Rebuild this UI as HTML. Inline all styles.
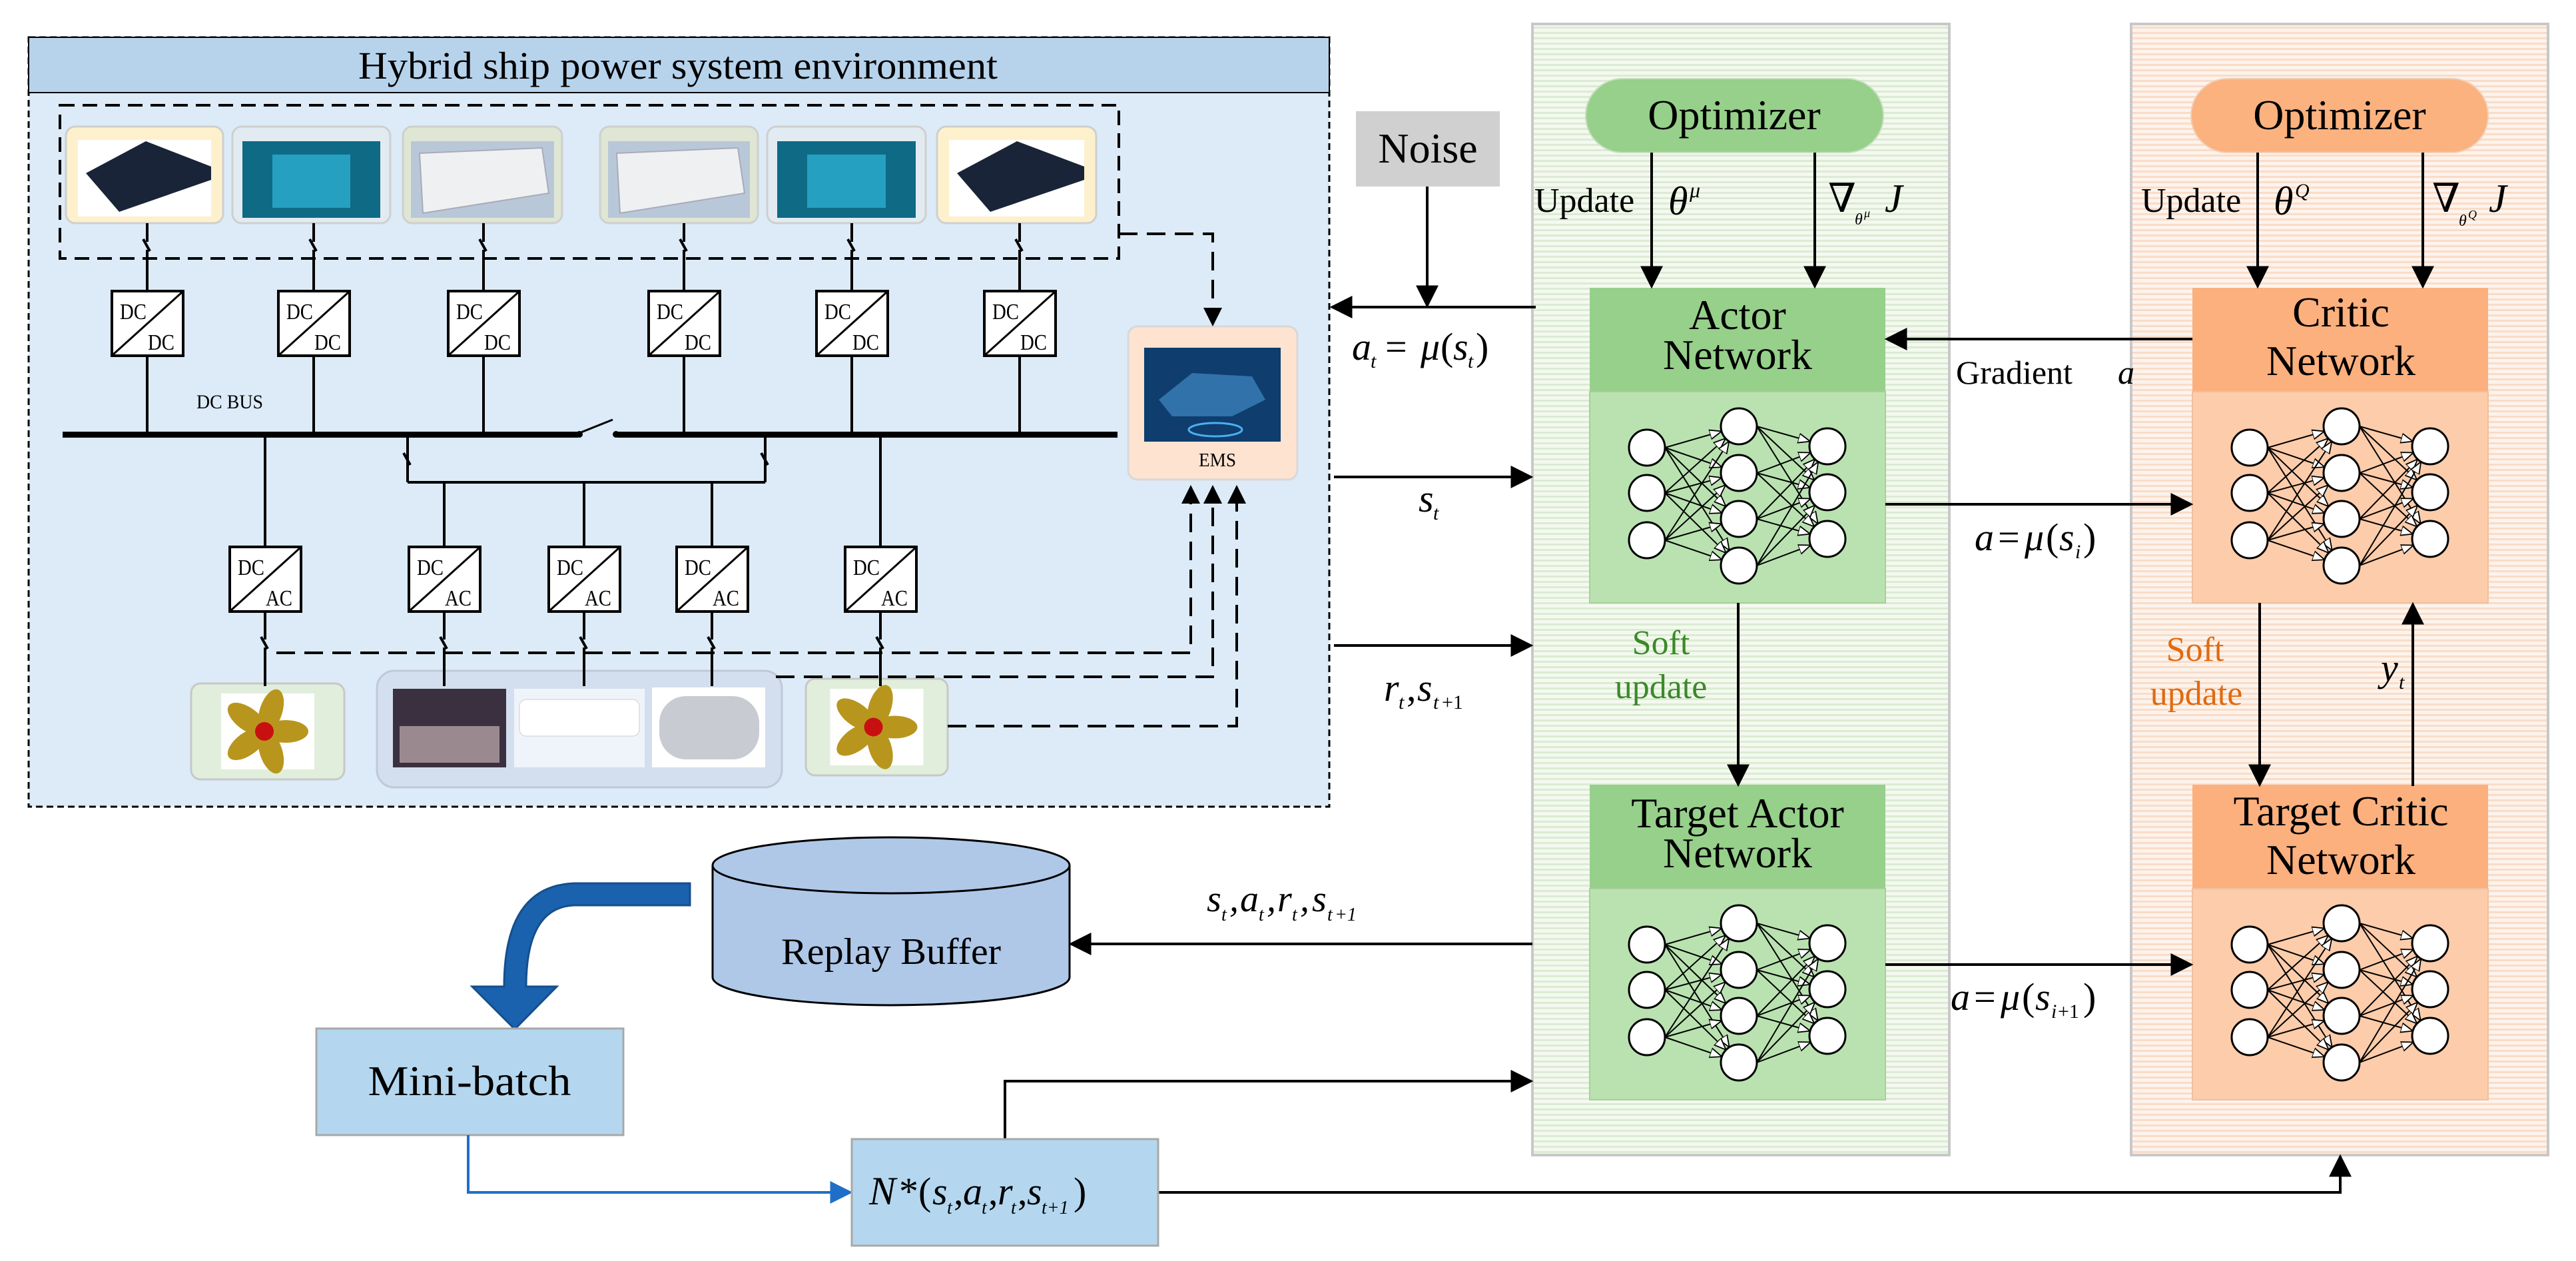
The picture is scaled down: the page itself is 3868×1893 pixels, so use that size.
<!DOCTYPE html>
<html><head><meta charset="utf-8"><style>
html,body{margin:0;padding:0;background:#fff}
svg{display:block}
svg text{font-family:"Liberation Serif","DejaVu Serif",serif}
.it{font-style:italic}
</style></head><body>
<svg id="s" xmlns="http://www.w3.org/2000/svg" width="3868" height="1893" viewBox="0 0 3868 1893" font-family="Liberation Serif, serif">
<defs>
<marker id="ab" viewBox="0 0 10 10" refX="9" refY="5" markerWidth="34" markerHeight="34" orient="auto" markerUnits="userSpaceOnUse"><path d="M0,0 L10,5 L0,10 z" fill="#000"/></marker>
<marker id="abl" viewBox="0 0 10 10" refX="9" refY="5" markerWidth="34" markerHeight="34" orient="auto" markerUnits="userSpaceOnUse"><path d="M0,0 L10,5 L0,10 z" fill="#1f6fc8"/></marker>
<marker id="on" viewBox="0 0 10 10" refX="10" refY="5" markerWidth="18" markerHeight="18" orient="auto" markerUnits="userSpaceOnUse"><path d="M0,1 L10,5 L0,9 z" fill="#fff" stroke="#000" stroke-width="1"/></marker>
<pattern id="pg" width="8" height="8" patternUnits="userSpaceOnUse"><rect width="8" height="8" fill="#f4f9f0"/><rect y="0" width="8" height="3" fill="#dcebd3"/></pattern>
<pattern id="po" width="8" height="8" patternUnits="userSpaceOnUse"><rect width="8" height="8" fill="#fdf3ec"/><rect y="0" width="8" height="3" fill="#f9dcc8"/></pattern>
</defs>

<rect x="43" y="56" width="1953" height="1155" fill="#dcebf7" stroke="#000" stroke-width="3" stroke-dasharray="10,6"/>
<rect x="43" y="56" width="1953" height="83" fill="#b7d3ec" stroke="#000" stroke-width="2"/>
<text x="1018" y="118" font-size="58" text-anchor="middle" textLength="960" lengthAdjust="spacingAndGlyphs">Hybrid ship power system environment</text>

<rect x="90" y="158" width="1590" height="230" fill="none" stroke="#000" stroke-width="4" stroke-dasharray="22,12"/>
<g id="tiles"></g>
<g id="elec" stroke="#000" stroke-width="4" fill="none"></g>

<rect x="94" y="648" width="774" height="9" fill="#000"/>
<rect x="927" y="648" width="751" height="9" fill="#000"/>
<line x1="870" y1="650" x2="920" y2="630" stroke="#000" stroke-width="3"/>
<circle cx="870" cy="652" r="5" fill="#000"/><circle cx="925" cy="652" r="5" fill="#000"/>
<text x="295" y="613" font-size="30" textLength="100" lengthAdjust="spacingAndGlyphs">DC BUS</text>

<rect x="1694" y="490" width="254" height="230" rx="14" fill="#fde3d0" stroke="#d8d8d8" stroke-width="3"/>
<rect x="1718" y="522" width="205" height="141" fill="#0e3d6e"/>
<path d="M1740,600 L1790,560 L1880,565 L1900,600 L1850,625 L1760,625 z" fill="#3a7fb8" opacity="0.8"/>
<ellipse cx="1825" cy="645" rx="40" ry="10" fill="none" stroke="#4ab0f0" stroke-width="3"/>
<text x="1828" y="700" font-size="28" text-anchor="middle" textLength="56" lengthAdjust="spacingAndGlyphs">EMS</text>

<g stroke="#000" stroke-width="4" fill="none" stroke-dasharray="28,14">
<polyline points="1680,351 1821,351 1821,470"/>
<polyline points="415,980 1788,980 1788,748"/>
<polyline points="1165,1016 1821,1016 1821,748"/>
<polyline points="1423,1090 1857,1090 1857,748"/>
</g>
<g fill="#000">
<path d="M1807,462 L1835,462 L1821,490 z"/>
<path d="M1774,756 L1802,756 L1788,728 z"/>
<path d="M1807,756 L1835,756 L1821,728 z"/>
<path d="M1843,756 L1871,756 L1857,728 z"/>
</g>

<rect x="2036" y="167" width="216" height="113" fill="#d0d0d0"/>
<text x="2144" y="244" font-size="64" text-anchor="middle">Noise</text>

<rect x="2301" y="36" width="626" height="1698" fill="url(#pg)" stroke="#c8c8c8" stroke-width="4"/>
<rect x="3200" y="36" width="626" height="1698" fill="url(#po)" stroke="#c8c8c8" stroke-width="4"/>

<rect x="2381" y="118" width="447" height="111" rx="55" fill="#96d08a" stroke="#c8e0c0" stroke-width="2"/>
<text x="2604" y="194" font-size="64" text-anchor="middle">Optimizer</text>
<rect x="3290" y="118" width="446" height="111" rx="55" fill="#fbb27f" stroke="#f0d0b8" stroke-width="2"/>
<text x="3513" y="194" font-size="64" text-anchor="middle">Optimizer</text>

<g id="nets"></g>

<text x="2609" y="494" font-size="64" text-anchor="middle">Actor</text>
<text x="2609" y="554" font-size="64" text-anchor="middle">Network</text>
<text x="2609" y="1242" font-size="64" text-anchor="middle">Target Actor</text>
<text x="2609" y="1302" font-size="64" text-anchor="middle">Network</text>
<text x="3515" y="490" font-size="64" text-anchor="middle">Critic</text>
<text x="3515" y="563" font-size="64" text-anchor="middle">Network</text>
<text x="3515" y="1239" font-size="64" text-anchor="middle">Target Critic</text>
<text x="3515" y="1312" font-size="64" text-anchor="middle">Network</text>

<g stroke="#000" stroke-width="4" fill="none">
<line x1="2480" y1="229" x2="2480" y2="430" marker-end="url(#ab)"/>
<line x1="2725" y1="229" x2="2725" y2="430" marker-end="url(#ab)"/>
<line x1="3390" y1="229" x2="3390" y2="430" marker-end="url(#ab)"/>
<line x1="3638" y1="229" x2="3638" y2="430" marker-end="url(#ab)"/>
<line x1="2143" y1="280" x2="2143" y2="459" marker-end="url(#ab)"/>
<line x1="2306" y1="461" x2="2000" y2="461" marker-end="url(#ab)"/>
<line x1="3292" y1="509" x2="2833" y2="509" marker-end="url(#ab)"/>
<line x1="2831" y1="757" x2="3290" y2="757" marker-end="url(#ab)"/>
<line x1="2003" y1="716" x2="2299" y2="716" marker-end="url(#ab)"/>
<line x1="2003" y1="969" x2="2299" y2="969" marker-end="url(#ab)"/>
<line x1="2610" y1="905" x2="2610" y2="1178" marker-end="url(#ab)"/>
<line x1="3393" y1="905" x2="3393" y2="1178" marker-end="url(#ab)"/>
<line x1="3623" y1="1180" x2="3623" y2="907" marker-end="url(#ab)"/>
<line x1="2831" y1="1448" x2="3290" y2="1448" marker-end="url(#ab)"/>
<line x1="2301" y1="1417" x2="1608" y2="1417" marker-end="url(#ab)"/>
<polyline points="1509,1710 1509,1623 2299,1623" marker-end="url(#ab)"/>
<polyline points="1739,1790 3514,1790 3514,1736" marker-end="url(#ab)"/>
</g>

<text x="2304" y="318" font-size="52">Update</text>
<text x="2505" y="322" font-size="60" class="it">θ</text><text x="2537" y="296" font-size="32" class="it">μ</text>
<text x="2745" y="318" font-size="60" class="it">∇</text><text x="2785" y="337" font-size="24" class="it">θ</text><text x="2799" y="326" font-size="18" class="it">μ</text><text x="2830" y="318" font-size="60" class="it">J</text>
<text x="3215" y="318" font-size="52">Update</text>
<text x="3414" y="322" font-size="60" class="it">θ</text><text x="3446" y="296" font-size="30" class="it">Q</text>
<text x="3652" y="318" font-size="60" class="it">∇</text><text x="3692" y="339" font-size="24" class="it">θ</text><text x="3706" y="328" font-size="18" class="it">Q</text><text x="3737" y="318" font-size="60" class="it">J</text>

<text x="2030" y="540" font-size="58" class="it">a</text><text x="2058" y="552" font-size="30" class="it">t</text>
<text x="2080" y="540" font-size="58">=</text><text x="2133" y="540" font-size="58" class="it">μ</text><text x="2163" y="540" font-size="58">(</text><text x="2182" y="540" font-size="58" class="it">s</text><text x="2204" y="552" font-size="30" class="it">t</text><text x="2216" y="540" font-size="58">)</text>

<text x="2130" y="768" font-size="58" class="it">s</text><text x="2152" y="780" font-size="30" class="it">t</text>
<text x="2078" y="1052" font-size="58" class="it">r</text><text x="2100" y="1064" font-size="30" class="it">t</text><text x="2112" y="1052" font-size="58">,</text><text x="2128" y="1052" font-size="58" class="it">s</text><text x="2152" y="1064" font-size="30" class="it">t</text><text x="2165" y="1064" font-size="30">+1</text>

<text x="2937" y="576" font-size="50">Gradient</text><text x="3180" y="576" font-size="50" class="it">a</text>
<text x="2965" y="826" font-size="58" class="it">a</text><text x="3000" y="826" font-size="58">=</text><text x="3040" y="826" font-size="58" class="it">μ</text><text x="3072" y="826" font-size="58">(</text><text x="3092" y="826" font-size="58" class="it">s</text><text x="3116" y="838" font-size="30" class="it">i</text><text x="3128" y="826" font-size="58">)</text>
<text x="2929" y="1516" font-size="58" class="it">a</text><text x="2964" y="1516" font-size="58">=</text><text x="3004" y="1516" font-size="58" class="it">μ</text><text x="3036" y="1516" font-size="58">(</text><text x="3056" y="1516" font-size="58" class="it">s</text><text x="3080" y="1528" font-size="30" class="it">i</text><text x="3090" y="1528" font-size="30">+1</text><text x="3128" y="1516" font-size="58">)</text>

<text x="2494" y="982" font-size="52" fill="#3a8a28" text-anchor="middle">Soft</text>
<text x="2494" y="1048" font-size="52" fill="#3a8a28" text-anchor="middle">update</text>
<text x="3296" y="992" font-size="52" fill="#e06a10" text-anchor="middle">Soft</text>
<text x="3298" y="1058" font-size="52" fill="#e06a10" text-anchor="middle">update</text>
<text x="3575" y="1022" font-size="58" class="it">y</text><text x="3602" y="1034" font-size="30" class="it">t</text>

<path d="M1070,1299 L1070,1467 A268,42 0 0 0 1606,1467 L1606,1299" fill="#afc8e8" stroke="#000" stroke-width="3"/>
<ellipse cx="1338" cy="1299" rx="268" ry="42" fill="#afc8e8" stroke="#000" stroke-width="3"/>
<text x="1338" y="1447" font-size="56" text-anchor="middle" textLength="330" lengthAdjust="spacingAndGlyphs">Replay Buffer</text>
<g class="it" font-size="56">
<text x="1812" y="1368" class="it">s</text><text x="1834" y="1382" font-size="28" class="it">t</text><text x="1846" y="1368">,</text>
<text x="1862" y="1368" class="it">a</text><text x="1890" y="1382" font-size="28" class="it">t</text><text x="1902" y="1368">,</text>
<text x="1918" y="1368" class="it">r</text><text x="1940" y="1382" font-size="28" class="it">t</text><text x="1952" y="1368">,</text>
<text x="1970" y="1368" class="it">s</text><text x="1993" y="1382" font-size="28" class="it">t</text><text x="2004" y="1382" font-size="28">+1</text>
</g>

<path d="M1036,1326 L862,1326 Q757,1330 757,1481 L709,1481 L773,1545 L836,1481 L790,1481 Q790,1362 862,1359 L1036,1359 z" fill="#1a62ad" stroke="#154f8c" stroke-width="3"/>

<rect x="475" y="1544" width="461" height="160" fill="#b4d7ef" stroke="#a8a8a8" stroke-width="3"/>
<text x="705" y="1644" font-size="64" text-anchor="middle" textLength="305" lengthAdjust="spacingAndGlyphs">Mini-batch</text>
<polyline points="703,1704 703,1790 1277,1790" stroke="#1f6fc8" stroke-width="4" fill="none" marker-end="url(#abl)"/>
<rect x="1279" y="1710" width="460" height="160" fill="#b4d7ef" stroke="#a8a8a8" stroke-width="3"/>
<text x="1305" y="1808" font-size="60" class="it">N</text><text x="1350" y="1808" font-size="58">*(</text>
<text x="1400" y="1808" font-size="58" class="it">s</text><text x="1422" y="1822" font-size="28" class="it">t</text><text x="1432" y="1808" font-size="58">,</text>
<text x="1446" y="1808" font-size="58" class="it">a</text><text x="1474" y="1822" font-size="28" class="it">t</text><text x="1484" y="1808" font-size="58">,</text>
<text x="1498" y="1808" font-size="58" class="it">r</text><text x="1518" y="1822" font-size="28" class="it">t</text><text x="1528" y="1808" font-size="58">,</text>
<text x="1542" y="1808" font-size="58" class="it">s</text><text x="1564" y="1822" font-size="28" class="it">t+1</text><text x="1612" y="1808" font-size="58">)</text>
</svg>
<script>
var NS="http://www.w3.org/2000/svg";
function el(p,t,a){var e=document.createElementNS(NS,t);for(var k in a)e.setAttribute(k,a[k]);p.appendChild(e);return e;}
var tiles=document.getElementById('tiles'),elec=document.getElementById('elec'),nets=document.getElementById('nets');
var src=[[99,335,'s'],[349,586,'f'],[605,844,'c'],[901,1138,'c'],[1152,1390,'f'],[1407,1646,'s']];
src.forEach(function(t){var x=t[0],w=t[1]-t[0];
 var bg=t[2]=='s'?'#fdf0cc':(t[2]=='f'?'#e2ebf2':'#dfe6d4');
 el(tiles,'rect',{x:x,y:190,width:w,height:145,rx:14,fill:bg,stroke:'#cfcfcf','stroke-width':3});
 if(t[2]=='s'){el(tiles,'rect',{x:x+18,y:210,width:w-36,height:115,fill:'#fff'});
  el(tiles,'path',{d:'M'+(x+30)+',260 L'+(x+120)+',212 L'+(x+w-18)+',250 L'+(x+w-18)+',270 L'+(x+80)+',318 z',fill:'#1a2438'});}
 else if(t[2]=='f'){el(tiles,'rect',{x:x+15,y:212,width:w-30,height:115,fill:'#0f6a86'});
  el(tiles,'rect',{x:x+60,y:232,width:w-120,height:80,fill:'#2fb8d8',opacity:0.7});}
 else {el(tiles,'rect',{x:x+12,y:212,width:w-24,height:115,fill:'#b8c8d8'});
  el(tiles,'path',{d:'M'+(x+25)+',230 L'+(x+w-30)+',222 L'+(x+w-20)+',290 L'+(x+30)+',320 z',fill:'#eef0f2',stroke:'#aab','stroke-width':2});}
});
function sw(x,y){el(elec,'line',{x1:x,y1:y-12,x2:x,y2:y-4});el(elec,'line',{x1:x-6,y1:y-8,x2:x+4,y2:y+10});}
function box(cx,top,a,b){var x=cx-53;el(elec,'rect',{x:x,y:top,width:107,height:97,fill:'#fff'});
 el(elec,'line',{x1:x+2,y1:top+95,x2:x+105,y2:top+2,'stroke-width':3});
 var t1=el(elec,'text',{x:x+12,y:top+42,'font-size':34,fill:'#000',stroke:'none','font-family':'Liberation Serif, serif',textLength:40,lengthAdjust:'spacingAndGlyphs'});t1.textContent=a;
 var t2=el(elec,'text',{x:x+54,y:top+88,'font-size':34,fill:'#000',stroke:'none','font-family':'Liberation Serif, serif',textLength:40,lengthAdjust:'spacingAndGlyphs'});t2.textContent=b;}
[221,471,726,1027,1279,1531].forEach(function(x){
 el(elec,'line',{x1:x,y1:335,x2:x,y2:355});el(elec,'line',{x1:x,y1:375,x2:x,y2:437});sw(x,367);
 el(elec,'line',{x1:x,y1:534,x2:x,y2:652});box(x,437,'DC','DC');});
el(elec,'line',{x1:398,y1:652,x2:398,y2:821});el(elec,'line',{x1:1322,y1:652,x2:1322,y2:821});
el(elec,'line',{x1:612,y1:652,x2:612,y2:724});el(elec,'line',{x1:1149,y1:652,x2:1149,y2:724});
sw(612,688);sw(1149,688);
el(elec,'line',{x1:612,y1:724,x2:1149,y2:724});
[667,877,1069].forEach(function(x){el(elec,'line',{x1:x,y1:724,x2:x,y2:821});});
[398,667,877,1069,1322].forEach(function(x){box(x,821,'DC','AC');
 el(elec,'line',{x1:x,y1:918,x2:x,y2:955});sw(x,964);el(elec,'line',{x1:x,y1:972,x2:x,y2:1030});});
function prop(x,y,w,h){el(tiles,'rect',{x:x,y:y,width:w,height:h,rx:14,fill:'#e0eedb',stroke:'#c8c8c8','stroke-width':3});
 var ix=x+(w-140)/2,iy=y+15;el(tiles,'rect',{x:ix,y:iy,width:140,height:h-30,fill:'#fff'});
 var cx=ix+65,cy=iy+(h-30)/2;
 for(var i=0;i<5;i++){var a=i*72*Math.PI/180;el(tiles,'ellipse',{cx:cx+32*Math.cos(a),cy:cy+32*Math.sin(a),rx:34,ry:17,fill:'#b8961e',transform:'rotate('+(i*72)+' '+(cx+32*Math.cos(a))+' '+(cy+32*Math.sin(a))+')'});}
 el(tiles,'circle',{cx:cx,cy:cy,r:14,fill:'#c81010'});}
el(tiles,'rect',{x:566,y:1007,width:608,height:175,rx:26,fill:'#d3dfee',stroke:'#c0c8d8','stroke-width':3});
prop(287,1026,230,144);prop(1210,1019,213,145);
el(tiles,'rect',{x:590,y:1034,width:170,height:118,fill:'#3a3040'});
el(tiles,'rect',{x:600,y:1090,width:150,height:55,fill:'#9a8a90'});
el(tiles,'rect',{x:772,y:1034,width:196,height:118,fill:'#eef4fa'});
el(tiles,'rect',{x:780,y:1050,width:180,height:55,rx:10,fill:'#fff',stroke:'#ccc'});
el(tiles,'rect',{x:979,y:1032,width:170,height:120,fill:'#fff'});
el(tiles,'rect',{x:990,y:1045,width:150,height:95,rx:40,fill:'#c8ccd2'});
function net(dx,dy,hdr,body,bd){
 el(nets,'rect',{x:2387+dx,y:432+dy,width:444,height:156,fill:hdr});
 el(nets,'rect',{x:2387+dx,y:588+dy,width:444,height:317,fill:body,stroke:bd,'stroke-width':2});
 var L1=[672,740,811],L2=[640,710,779,849],L3=[670,739,809],r=27;
 var g=el(nets,'g',{stroke:'#000','stroke-width':2});
 L1.forEach(function(a){L2.forEach(function(b){var x1=2473+dx+r,y1=a+dy,x2=2611+dx,y2=b+dy,ang=Math.atan2(y2-y1,x2-x1);
  el(g,'line',{x1:x1,y1:y1,x2:x2-r*Math.cos(ang),y2:y2-r*Math.sin(ang),'marker-end':'url(#on)'});});});
 L2.forEach(function(a){L3.forEach(function(b){var x1=2611+dx+r,y1=a+dy,x2=2744+dx,y2=b+dy,ang=Math.atan2(y2-y1,x2-x1);
  el(g,'line',{x1:x1,y1:y1,x2:x2-r*Math.cos(ang),y2:y2-r*Math.sin(ang),'marker-end':'url(#on)'});});});
 [[2473,L1],[2611,L2],[2744,L3]].forEach(function(l){l[1].forEach(function(y){el(nets,'circle',{cx:l[0]+dx,cy:y+dy,r:r,fill:'#fff',stroke:'#000','stroke-width':3});});});
}
net(0,0,'#96d08a','#b9e2b0','#a8d098');net(0,746,'#96d08a','#b9e2b0','#a8d098');
net(905,0,'#fcb07e','#fdccaa','#f0c0a0');net(905,746,'#fcb07e','#fdccaa','#f0c0a0');
</script>
</body></html>
